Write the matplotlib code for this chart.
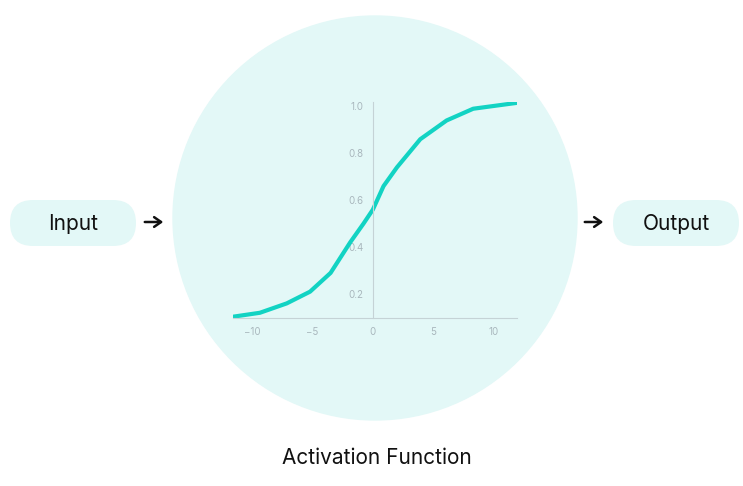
import matplotlib.pyplot as plt
from matplotlib.patches import Circle, FancyBboxPatch

# curve
curve_x = [-11.6, -9.35, -7.13, -5.2, -3.5, -1.88, -0.78, 0.0, 0.88, 1.99, 3.92, 6.1, 8.3, 11.9]
curve_y = [0.103, 0.12, 0.16, 0.21, 0.29, 0.42, 0.50, 0.56, 0.66, 0.74, 0.86, 0.94, 0.99, 1.015]
x_ticks = [-10, -5, 0, 5, 10]
y_ticks = [0.2, 0.4, 0.6, 0.8, 1.0]
labels = ["Input", "Output", "Activation Function"]

W, H = 743, 486
fig = plt.figure(figsize=(W / 100, H / 100), dpi=100)
bg = fig.add_axes([0, 0, 1, 1])
bg.set_xlim(0, W)
bg.set_ylim(H, 0)
bg.axis("off")

bg.add_patch(Circle((375, 218), 202, color="#e3f8f7", zorder=0))
for cx, text in [(73, labels[0]), (676, labels[1])]:
    bg.add_patch(FancyBboxPatch((cx - 40, 206), 80, 34,
                                boxstyle="round,pad=0,rounding_size=17",
                                mutation_aspect=1, color="#e3f8f7", lw=0))
    bg.add_patch(FancyBboxPatch((cx - 63, 200), 126, 46,
                                boxstyle="round,pad=0,rounding_size=23",
                                color="#e3f8f7", lw=0))
    bg.text(cx, 224, text, ha="center", va="center", fontsize=15,
            family="Inter", color="#111111")
for x0, x1 in [(142, 166), (582, 606)]:
    bg.annotate("", xy=(x1, 222), xytext=(x0, 222),
                arrowprops=dict(arrowstyle="->,head_length=0.5,head_width=0.35",
                                lw=1.8, color="#111111"))
bg.text(377, 458, labels[2], ha="center", va="center", fontsize=15,
        family="Inter", color="#111111")

ax = fig.add_axes([232.7 / W, (H - 317.7) / H, 284 / W, 216 / H])
ax.patch.set_alpha(0)
ax.plot(curve_x, curve_y, color="#12d3c3", lw=3, solid_capstyle="round")
ax.set_xlim(-11.6, 11.9)
ax.set_ylim(0.099, 1.02)
ax.set_xticks(x_ticks)
ax.set_yticks(y_ticks)
ax.set_yticklabels([f"{v:.1f}" for v in y_ticks])
for s in ["top", "right"]:
    ax.spines[s].set_visible(False)
ax.spines["left"].set_position(("data", 0))
for s in ["left", "bottom"]:
    ax.spines[s].set_color("#c5d3d6")
    ax.spines[s].set_linewidth(0.8)
ax.tick_params(length=0, labelsize=7, labelcolor="#a9b7bd", pad=7)
for t in ax.get_xticklabels() + ax.get_yticklabels():
    t.set_family("Inter")

fig.savefig("out.png", dpi=100)
